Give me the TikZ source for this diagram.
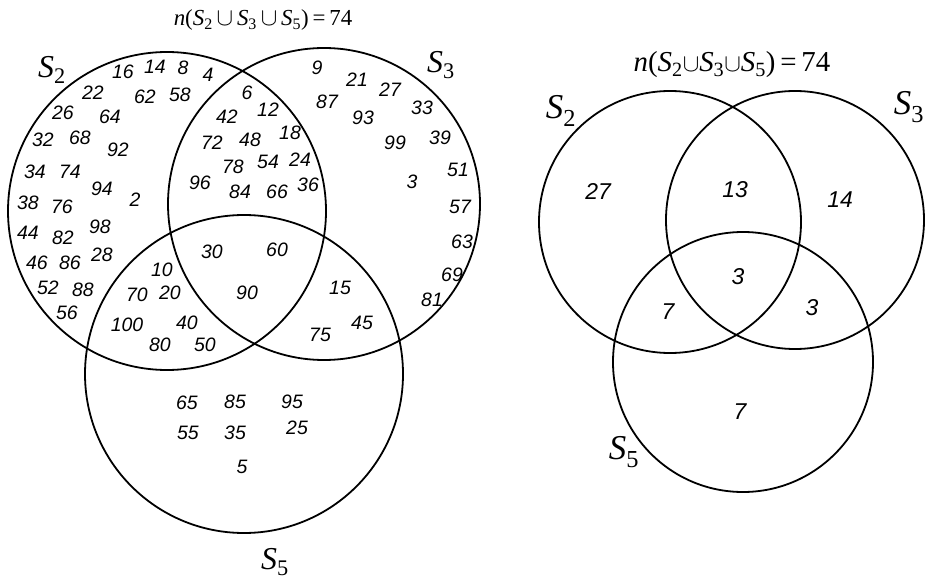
\documentclass[tikz,border=0pt]{standalone}
\usepackage{fontspec}
\setmainfont{Liberation Serif}
\newfontfamily\numfont{Liberation Sans}
\newcommand{\setname}[1]{\textit{S}\textsubscript{#1}}
\tikzset{
  setc/.style={line width=1.8bp},
  num/.style={font=\numfont\itshape\fontsize{19.5}{19.5}\selectfont, inner sep=0pt},
  numr/.style={font=\numfont\itshape\fontsize{23}{23}\selectfont, inner sep=0pt},
  setlbl/.style={font=\fontsize{32}{32}\selectfont, inner sep=0pt},
  setlblr/.style={font=\fontsize{35}{35}\selectfont, inner sep=0pt},
  ttl/.style={font=\fontsize{23}{23}\selectfont, inner sep=0pt},
  ttlr/.style={font=\fontsize{29}{29}\selectfont, inner sep=0pt}
}
\begin{document}
\begin{tikzpicture}[x=1bp,y=-1bp]
\useasboundingbox (0,0) rectangle (926,579);
% left diagram
\coordinate (L2) at (167,211);
\coordinate (L3) at (324,204);
\coordinate (L5) at (244,374);
\draw[setc] (L2) circle[radius=159bp];
\draw[setc] (L3) circle[radius=156bp];
\draw[setc] (L5) circle[radius=159bp];
\node[ttl] (Ltitle) at (263,20) {\textit{n}(\setname{2}\,$\cup$\,\setname{3}\,$\cup$\,\setname{5})\,=\,74};
\node[setlbl] (LS2) at (52,70) {\setname{2}};
\node[setlbl] (LS3) at (441,65) {\setname{3}};
\node[setlbl] (LS5) at (275,562) {\setname{5}};
\foreach \t/\x/\y in {16/123/72, 14/155/67, 8/183/68, 4/208/75, 22/93/93, 62/145/97, 58/180/95, 6/247/93, 26/63/113, 64/110/117, 42/227/117, 12/268/110, 32/43/140, 68/80/138, 92/118/150, 72/212/143, 48/250/140, 18/290/133, 34/35/172, 74/70/172, 94/102/189, 78/233/167, 54/268/162, 24/300/160, 96/200/183, 84/240/192, 66/277/192, 36/308/185, 2/135/200, 38/28/203, 76/62/207, 44/28/233, 82/63/238, 98/100/227, 46/37/263, 86/70/263, 28/102/255, 52/48/288, 88/83/290, 56/67/313, 10/162/270, 70/137/295, 20/170/293, 100/127/325, 40/187/323, 80/160/345, 50/205/345, 30/212/252, 60/277/250, 90/247/293, 9/317/68, 21/357/80, 27/390/90, 87/327/102, 93/363/118, 33/422/108, 99/395/143, 39/440/138, 51/458/170, 3/412/182, 57/460/207, 63/462/242, 69/452/275, 81/432/300, 15/340/288, 45/362/323, 75/320/335, 65/187/403, 85/235/402, 95/292/402, 55/188/433, 35/235/433, 25/297/428, 5/242/467}
  \node[num] (n\t) at (\x,\y) {\t};
% right diagram
\coordinate (R2) at (670,222);
\coordinate (R3) at (795,220);
\coordinate (R5) at (743,362);
\draw[setc] (R2) circle[radius=131bp];
\draw[setc] (R3) circle[radius=129bp];
\draw[setc] (R5) circle[radius=130bp];
\node[ttlr] (Rtitle) at (732,65) {\textit{n}(\setname{2}$\cup$\setname{3}$\cup$\setname{5})\,=\,74};
\node[setlblr] (RS2) at (561,111) {\setname{2}};
\node[setlblr] (RS3) at (909,107) {\setname{3}};
\node[setlblr] (RS5) at (624,452) {\setname{5}};
\node[numr] (r1) at (598,192) {27};
\node[numr] (r2) at (735,190) {13};
\node[numr] (r3) at (840,200) {14};
\node[numr] (r4) at (738,277) {3};
\node[numr] (r5) at (668,312) {7};
\node[numr] (r6) at (812,308) {3};
\node[numr] (r7) at (740,412) {7};
\end{tikzpicture}
\end{document}
